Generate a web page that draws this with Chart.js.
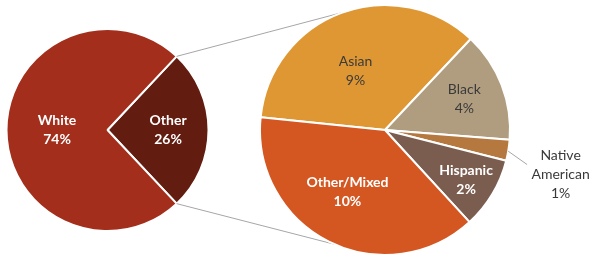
<!DOCTYPE html>
<html><head><meta charset="utf-8">
<script src="https://cdn.jsdelivr.net/npm/chart.js@4/dist/chart.umd.min.js"></script>
<style>
html,body{margin:0;padding:0;background:#fff;}
#wrap{position:relative;width:600px;height:260px;}
#c1box{position:absolute;left:0;top:0;width:215px;height:260px;}
#c2box{position:absolute;left:0;top:0;width:600px;height:260px;}
</style></head><body>
<div id="wrap"><div id="c1box"><canvas id="c1"></canvas></div><div id="c2box"><canvas id="c2"></canvas></div></div>
<script>
// Main pie
const mainLabels = [['Other'], ['White']];
const mainValues = [26, 74];
const mainColors = ['#621C10', '#A32E1C'];
// Breakdown of "Other"
const subLabels = [['Asian'], ['Black'], ['Native', 'American'], ['Hispanic'], ['Other/Mixed']];
const subValues = [9.2, 3.7, 0.7, 2.4, 10.0];
const subColors = ['#DF9734', '#B09D7F', '#B5783F', '#7B5D50', '#D45722'];

const FONT = 'Lato, "Open Sans", sans-serif';

const labelPlugin = {
  id: 'sliceLabels',
  afterDatasetsDraw(chart, args, opts) {
    const ctx = chart.ctx;
    const meta = chart.getDatasetMeta(0);
    const vals = chart.data.datasets[0].data;
    meta.data.forEach((arc, i) => {
      const it = opts.items[i];
      const mid = (arc.startAngle + arc.endAngle) / 2;
      const R = arc.outerRadius;
      const lines = chart.data.labels[i].concat([Math.round(vals[i]) + '%']);
      ctx.save();
      if (it.leader) {
        const a0 = mid + it.leader[0] * Math.PI / 180, a1 = mid + it.leader[2] * Math.PI / 180;
        ctx.strokeStyle = '#A6A6A6'; ctx.lineWidth = 1;
        ctx.beginPath();
        ctx.moveTo(arc.x + R * Math.cos(a0), arc.y + R * Math.sin(a0));
        ctx.lineTo(arc.x + R * it.leader[1] * Math.cos(a1), arc.y + R * it.leader[1] * Math.sin(a1));
        ctx.stroke();
      }
      const a = mid + it.da * Math.PI / 180;
      const cx = arc.x + R * it.r * Math.cos(a);
      const cy = arc.y + R * it.r * Math.sin(a);
      ctx.fillStyle = it.color;
      ctx.font = (it.bold ? 'bold ' : '') + '14px ' + FONT;
      ctx.textAlign = 'center';
      ctx.textBaseline = 'middle';
      const lh = 19;
      const y0 = cy - (lines.length - 1) * lh / 2;
      lines.forEach((t, k) => ctx.fillText(t, cx, y0 + k * lh));
      ctx.restore();
    });
  }
};

const c1 = new Chart(document.getElementById('c1'), {
  type: 'pie',
  data: { labels: mainLabels, datasets: [{ data: mainValues, backgroundColor: mainColors, borderColor: '#ffffff', borderWidth: 2 }] },
  options: {
    responsive: true, maintainAspectRatio: false, animation: false,
    rotation: 90 - 0.5 * 360 * mainValues[0] / (mainValues[0] + mainValues[1]),
    radius: 101,
    layout: { padding: 0 },
    plugins: {
      legend: { display: false }, tooltip: { enabled: false },
      sliceLabels: { items: [
        { r: 0.6, da: -0, color: '#ffffff', bold: true },
        { r: 0.5, da: 0, color: '#ffffff', bold: true }
      ] }
    }
  },
  plugins: [labelPlugin]
});

const connectorPlugin = {
  id: 'connectors',
  beforeDatasetsDraw(chart, args, opts) {
    const src = c1.getDatasetMeta(0).data[0];
    const dst = chart.getDatasetMeta(0).data[0];
    const ctx = chart.ctx;
    ctx.save();
    ctx.strokeStyle = '#A6A6A6'; ctx.lineWidth = 1;
    const ends = [[src.startAngle, opts.topAngle], [src.endAngle, opts.bottomAngle]];
    ends.forEach(([sa, da]) => {
      const d = da * Math.PI / 180;
      ctx.beginPath();
      ctx.moveTo(src.x + src.outerRadius * Math.cos(sa), src.y + src.outerRadius * Math.sin(sa));
      ctx.lineTo(dst.x + dst.outerRadius * Math.cos(d), dst.y + dst.outerRadius * Math.sin(d));
      ctx.stroke();
    });
    ctx.restore();
  }
};

const c2 = new Chart(document.getElementById('c2'), {
  type: 'pie',
  data: { labels: subLabels, datasets: [{ data: subValues, backgroundColor: subColors, borderColor: '#ffffff', borderWidth: 2 }] },
  options: {
    responsive: true, maintainAspectRatio: false, animation: false,
    rotation: -84.1,
    radius: 125,
    layout: { padding: { left: 170, right: 0, top: 0, bottom: 0 } },
    plugins: {
      legend: { display: false }, tooltip: { enabled: false },
      connectors: { topAngle: -110, bottomAngle: 114 },
      sliceLabels: { items: [
        { r: 0.53, da: -6, color: '#3A3A3A' },
        { r: 0.68, da: 0, color: '#3A3A3A' },
        { r: 1.45, da: 5, color: '#3A3A3A', leader: [0.4, 1.17, 4.3] },
        { r: 0.76, da: 0.6, color: '#ffffff', bold: true },
        { r: 0.58, da: 4.5, color: '#ffffff', bold: true }
      ] }
    }
  },
  plugins: [connectorPlugin, labelPlugin]
});
</script>
</body></html>
